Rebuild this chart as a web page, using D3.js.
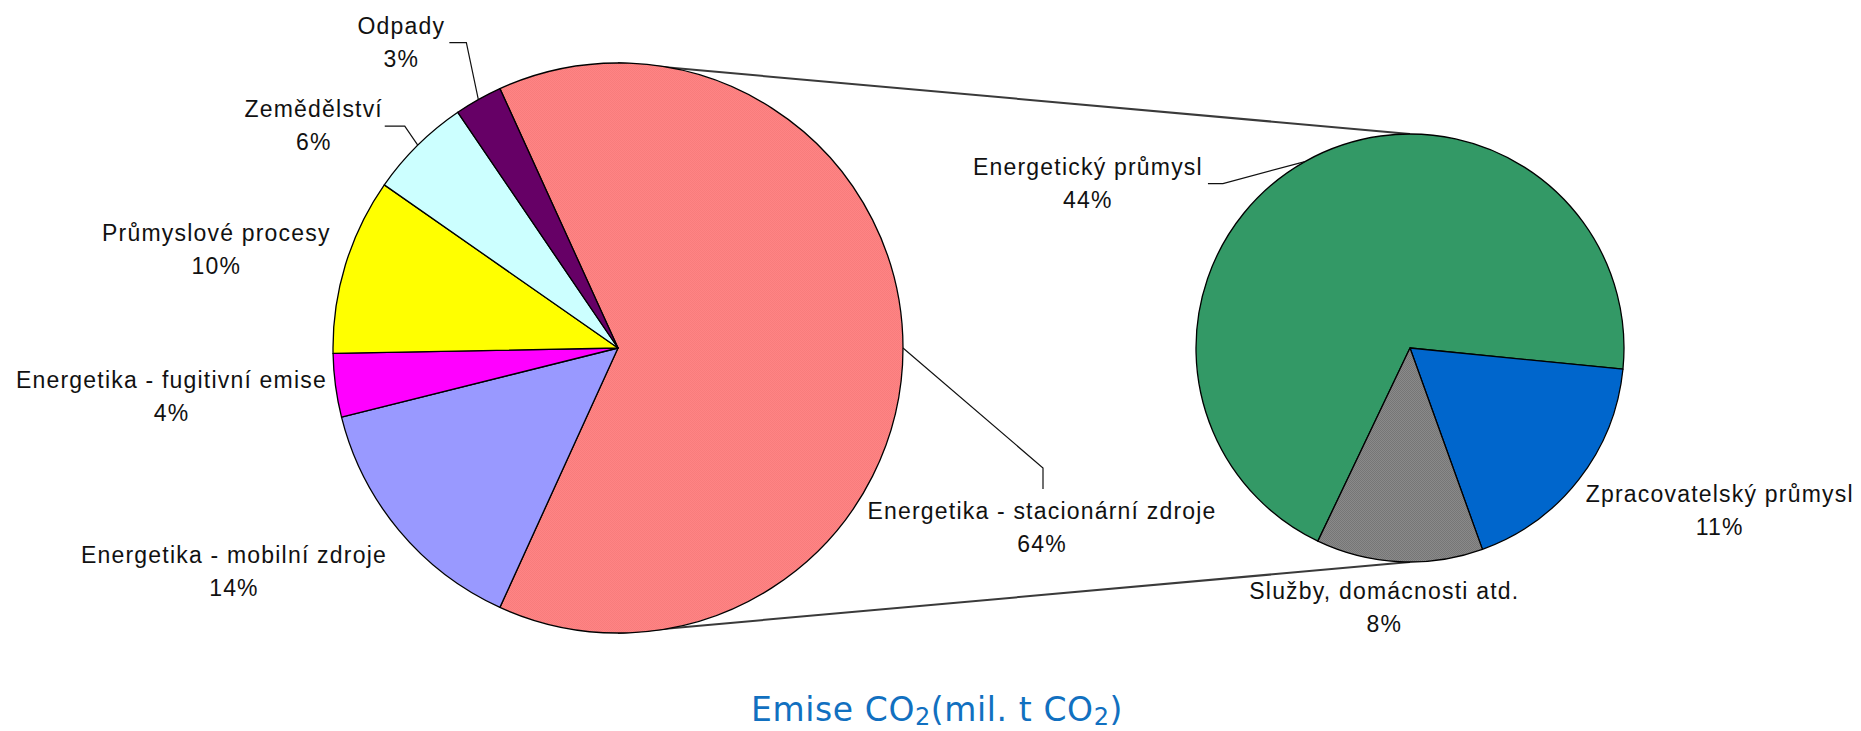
<!DOCTYPE html>
<html><head><meta charset="utf-8">
<script src="https://cdn.jsdelivr.net/npm/d3@7"></script>
<style>html,body{margin:0;padding:0;background:#fff;overflow:hidden}</style>
</head><body>
<svg id="chart" width="1861" height="731"></svg>
<script>
// ---------- DATA ----------
const mainCategories = ["Energetika - stacionární zdroje", "Energetika - mobilní zdroje", "Energetika - fugitivní emise", "Průmyslové procesy", "Zemědělství", "Odpady"];
const mainOtherValues = [14.3, 3.6, 10.0, 5.8, 2.7]; // all main slices except "stacionární zdroje"
const secondaryCategories = ["Energetický průmysl", "Zpracovatelský průmysl", "Služby, domácnosti atd."];
const secondaryValues = [44.2, 11.4, 8.0]; // break-down of "stacionární zdroje"
const titleText = ["Emise CO", "2", "(mil. t CO", "2", ")"];

// ---------- STYLE / LAYOUT ----------
const mainColors = ["url(#dRed)", "#9999FF", "#FF00FF", "#FFFF00", "#CCFFFF", "#660066"];
const secColors = ["#339966", "#0066CC", "url(#dGray)"];
const W = 1861, H = 731;
const mainC = {x: 618, y: 348, r: 285};
const secC = {x: 1410, y: 348, r: 214};
const secStartDeg = -154.5;
// label offsets relative to slice edge point at mid-angle; leader = list of offsets
const mainLabelLayout = [
  {dx: 139, dy: 171, leader: [[140, 120], [140, 141]]},
  {dx: -165, dy: 33},
  {dx: -164, dy: 3},
  {dx: -129, dy: -24},
  {dx: -104, dy: -28, leader: [[-13, -19], [-33, -19]]},
  {dx: -77, dy: -66, leader: [[-12, -57], [-29, -57]]}
];
const secLabelLayout = [
  {dx: -217, dy: 13, leader: [[-82, 22], [-97, 22]]},
  {dx: 141, dy: 22},
  {dx: -15, dy: 37}
];
const lineGap = 33;

// ---------- BUILD ----------
const mainValues = [d3.sum(secondaryValues), ...mainOtherValues];
const total = d3.sum(mainValues);
const pct = d3.format(".0%");

const svg = d3.select("#chart");
const defs = svg.append("defs");
function dither(id, a, b) {
  const p = defs.append("pattern").attr("id", id).attr("width", 2).attr("height", 2)
    .attr("patternUnits", "userSpaceOnUse");
  p.append("rect").attr("width", 2).attr("height", 2).attr("fill", a);
  p.append("rect").attr("width", 1).attr("height", 1).attr("fill", b);
  p.append("rect").attr("x", 1).attr("y", 1).attr("width", 1).attr("height", 1).attr("fill", b);
}
dither("dRed", "#FF8484", "#F87c7c");
dither("dGray", "#8a8a8a", "#767676");

const mainData = mainCategories.map((c, i) => ({name: c, value: mainValues[i]}));
const secData = secondaryCategories.map((c, i) => ({name: c, value: secondaryValues[i]}));

const redAngle = mainValues[0] / total * 2 * Math.PI;
const mainStart = Math.PI / 2 - redAngle / 2;
const mainArcs = d3.pie().sort(null).value(d => d.value)
  .startAngle(mainStart).endAngle(mainStart + 2 * Math.PI)(mainData);
const secStart = secStartDeg * Math.PI / 180;
const secArcs = d3.pie().sort(null).value(d => d.value)
  .startAngle(secStart).endAngle(secStart + 2 * Math.PI)(secData);

// connector lines
const conn = svg.append("g").attr("stroke", "#3a3a3a").attr("stroke-width", 2).attr("fill", "none");
conn.append("line").attr("x1", mainC.x).attr("y1", mainC.y - mainC.r).attr("x2", secC.x).attr("y2", secC.y - secC.r);
conn.append("line").attr("x1", mainC.x).attr("y1", mainC.y + mainC.r).attr("x2", secC.x).attr("y2", secC.y + secC.r);

function drawPie(arcs, c, colors) {
  const arc = d3.arc().innerRadius(0).outerRadius(c.r);
  svg.append("g").attr("transform", `translate(${c.x},${c.y})`)
    .selectAll("path").data(arcs).join("path")
    .attr("d", arc).attr("fill", (d, i) => colors[i])
    .attr("stroke", "#000").attr("stroke-width", 1.3).attr("stroke-linejoin", "round");
}
drawPie(mainArcs, mainC, mainColors);
drawPie(secArcs, secC, secColors);

function drawLabels(arcs, c, layout) {
  const g = svg.append("g");
  arcs.forEach((d, i) => {
    const a = (d.startAngle + d.endAngle) / 2;
    const px = c.x + c.r * Math.sin(a), py = c.y - c.r * Math.cos(a);
    const L = layout[i];
    if (L.leader) {
      const pts = [[px, py], ...L.leader.map(o => [px + o[0], py + o[1]])];
      g.append("path").attr("d", d3.line()(pts)).attr("fill", "none")
        .attr("stroke", "#111").attr("stroke-width", 1.2);
    }
    const t = g.append("text").attr("text-anchor", "middle")
      .attr("font-family", "'Liberation Sans', Arial, sans-serif")
      .attr("font-size", 23).attr("letter-spacing", 1.2).attr("fill", "#111");
    t.append("tspan").attr("x", px + L.dx).attr("y", py + L.dy).text(d.data.name);
    t.append("tspan").attr("x", px + L.dx).attr("y", py + L.dy + lineGap).text(pct(d.data.value / total));
  });
}
drawLabels(mainArcs, mainC, mainLabelLayout);
drawLabels(secArcs, secC, secLabelLayout);

// title
const title = svg.append("text").attr("x", 937).attr("y", 721).attr("text-anchor", "middle")
  .attr("font-family", "'DejaVu Sans', Verdana, sans-serif").attr("font-size", 33)
  .attr("letter-spacing", 0.6).attr("fill", "#1170C0");
let shift = 0;
titleText.forEach((s, i) => {
  const sub = i % 2 === 1;
  const dy = sub ? 4 : -shift;
  shift = sub ? 4 : 0;
  title.append("tspan").attr("dy", dy).attr("font-size", sub ? 24 : 33).text(s);
});
</script>
</body></html>
